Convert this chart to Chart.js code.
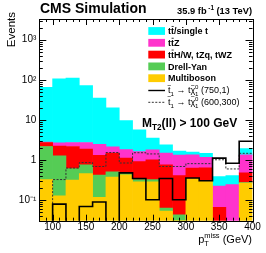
<!DOCTYPE html>
<html><head><meta charset="utf-8">
<script src="https://cdn.jsdelivr.net/npm/chart.js@4/dist/chart.umd.min.js"></script>
<style>html,body{margin:0;padding:0;background:#fff;}canvas{display:block;}</style>
</head><body>
<canvas id="c" width="266" height="253"></canvas>
<script>
// ---- data (GeV bins, events per bin) ----
const binEdges = [80,100,120,140,160,180,200,220,240,260,280,300,320,340,360,380,400];
const binCenters = [90,110,130,150,170,190,210,230,250,270,290,310,330,350,370,390];
const multiboson = [0.32,0.125,0.31,0.45,0.115,0.37,0.42,0.28,0.28,0.052,0.025,0.34,0.30,null,null,0.26];
const drellYan   = [1.83,1.13,0.29,0.30,0.30,0.13,0.05,0.04,0.04,0.01,0.017,null,null,null,null,0.01];
const ttHWtZq    = [0.55,0.94,1.55,1.10,0.88,0.97,0.63,0.58,0.68,0.69,0.36,0.28,0.33,0.065,null,0.20];
const ttZ        = [0.05,0.45,0.55,0.85,1.15,0.63,0.70,0.70,0.78,0.72,0.90,0.71,0.52,0.155,0.24,0.86];
const ttSingleT  = [62,103,107,69,32.5,17.9,7.7,4.0,1.7,0.9,0.35,0.22,0.30,0.16,0.16,0.57];
const sig750_1   = [0,0.078,0,0.068,0.088,0,0.47,0.34,0.10,0.34,0.10,0.35,0.30,1.1,0.82,2.9];
const sig600_300 = [0,0.32,0.62,0.85,0.68,1.52,0.83,1.5,1.4,0.68,0.68,0.8,0.8,1.0,0.59,1.45];
const xTicks = [100,150,200,250,300,350,400];
const yTicks = [0.1,1,10,100,1000];
const yTickLabels = ['10\u207B\u00B9','1','10','10\u00B2','10\u00B3'];

const FONT = "'Liberation Sans', Arial, Helvetica, sans-serif";
const COLORS = {tt:'#00FFFF', ttz:'#FF33CC', ttx:'#FF0000', dy:'#55CC55', vv:'#FFCC00'};

function barData(arr){ return binCenters.map((x,i)=>({x:x, y:arr[i]})); }
function stepData(arr){
  // zero bins are pushed far below the axis minimum so they drop out of view
  return binEdges.map((x,i)=>{ const v = arr[Math.min(i,arr.length-1)]; return {x:x, y: v>0 ? v : 1e-4}; });
}
function barSet(label, arr, color){
  return {type:'bar', label, data:barData(arr), backgroundColor:color, borderWidth:0,
          barPercentage:1, categoryPercentage:1, stack:'bkg'};
}

function drawRich(ctx, x, y, parts, size, weight, draw){
  let cx = x;
  for (const p of parts){
    if (p.ss){
      const fs = size*0.68;
      ctx.font = `${weight} ${fs}px ${FONT}`;
      const w = Math.max(ctx.measureText(p.sup).width, ctx.measureText(p.sub).width);
      if (draw){ ctx.fillText(p.sup, cx, y - size*0.42); ctx.fillText(p.sub, cx, y + size*0.28); }
      cx += w; continue;
    }
    const small = p.sup || p.sub;
    const fs = small ? size*0.68 : size;
    ctx.font = `${weight} ${fs}px ${FONT}`;
    const dy = p.sup ? -size*0.42 : (p.sub ? size*0.28 : 0);
    const w = ctx.measureText(p.t).width;
    if (draw){
      ctx.fillText(p.t, cx, y+dy);
      if (p.bar){
        ctx.save(); ctx.lineWidth = 0.8; ctx.strokeStyle = ctx.fillStyle;
        ctx.beginPath(); ctx.moveTo(cx+0.6, y - size*0.86); ctx.lineTo(cx+w-0.3, y - size*0.86); ctx.stroke(); ctx.restore();
      }
      if (p.tilde){
        ctx.save(); ctx.font = `${weight} ${size*0.75}px ${FONT}`; ctx.textAlign='center';
        ctx.fillText('~', cx + w/2, y - size*0.62); ctx.restore();
      }
    }
    cx += w;
  }
  return cx - x;
}

const framePlugin = {
  id:'frame',
  afterDatasetsDraw(chart){
    const {ctx, chartArea:a, scales:{x, y}} = chart;
    ctx.save();
    ctx.strokeStyle = '#000'; ctx.lineWidth = 1;
    ctx.beginPath();
    for (let e=-2; e<=3; e++){
      for (let m=1; m<=9; m++){
        const v = m*Math.pow(10,e);
        if (v <= y.min*1.0001 || v >= y.max) continue;
        const py = Math.round(y.getPixelForValue(v)) + 0.5;
        const len = m===1 ? 7 : 3.5;
        ctx.moveTo(a.left, py); ctx.lineTo(a.left+len, py);
        ctx.moveTo(a.right, py); ctx.lineTo(a.right-len, py);
      }
    }
    for (let v=90; v<400; v+=10){
      const px = Math.round(x.getPixelForValue(v)) + 0.5;
      const len = v%50===0 ? 6 : 3;
      ctx.moveTo(px, a.bottom); ctx.lineTo(px, a.bottom-len);
      ctx.moveTo(px, a.top); ctx.lineTo(px, a.top+len);
    }
    ctx.stroke();
    const L = Math.round(a.left)+0.5, T = Math.round(a.top)+0.5;
    ctx.strokeRect(L, T, Math.round(a.right)-Math.round(a.left), Math.round(a.bottom)-Math.round(a.top));
    ctx.restore();
  }
};

const legendEntries = [
  {kind:'box', color:COLORS.tt,  parts:[{t:'t'},{t:'t',bar:true},{t:'/single t'}], w:'bold'},
  {kind:'box', color:COLORS.ttz, parts:[{t:'t'},{t:'t',bar:true},{t:'Z'}], w:'bold'},
  {kind:'box', color:COLORS.ttx, parts:[{t:'t'},{t:'t',bar:true},{t:'H/W, tZq, tWZ'}], w:'bold'},
  {kind:'box', color:COLORS.dy,  parts:[{t:'Drell-Yan'}], w:'bold'},
  {kind:'box', color:COLORS.vv,  parts:[{t:'Multiboson'}], w:'bold'},
  {kind:'solid', parts:[{t:'t',tilde:true},{t:'1',sub:true},{t:' \u2192 t'},{t:'\u03C7',tilde:true},{ss:true,sup:'0',sub:'1'},{t:' (750,1)'}], w:'normal'},
  {kind:'dash',  parts:[{t:'t',tilde:true},{t:'1',sub:true},{t:' \u2192 t'},{t:'\u03C7',tilde:true},{ss:true,sup:'0',sub:'1'},{t:' (600,300)'}], w:'normal'}
];

const textPlugin = {
  id:'texts',
  afterDraw(chart){
    const ctx = chart.ctx;
    ctx.save();
    ctx.fillStyle = '#000'; ctx.textBaseline = 'alphabetic'; ctx.textAlign = 'left';
    // header
    ctx.font = `bold 14px ${FONT}`;
    ctx.fillText('CMS Simulation', 40, 13);
    const lumi = [{t:'35.9 fb'},{t:' -1',sup:true},{t:' (13 TeV)'}];
    const lw = drawRich(ctx, 0, 0, lumi, 9.3, 'bold', false);
    drawRich(ctx, 252 - lw, 13.5, lumi, 9.3, 'bold', true);
    // y title
    ctx.save();
    ctx.translate(15, 12); ctx.rotate(-Math.PI/2);
    ctx.textAlign = 'right'; ctx.font = `11.5px ${FONT}`;
    ctx.fillText('Events', 0, 0);
    ctx.restore();
    // x title
    const xt = [{t:'p'},{ss:true,sup:'miss',sub:'T'},{t:' (GeV)'}];
    const xw = drawRich(ctx, 0, 0, xt, 11, 'normal', false);
    drawRich(ctx, 252 - xw, 243, xt, 11, 'normal', true);
    // legend
    const y0 = 31, dy = 11.8;
    legendEntries.forEach((e, i)=>{
      const cy = y0 + i*dy;
      if (e.kind === 'box'){
        ctx.fillStyle = e.color; ctx.fillRect(148.3, cy-3.9, 16.7, 7.8);
      } else {
        ctx.save(); ctx.strokeStyle = e.kind==='solid' ? '#000' : '#333';
        ctx.lineWidth = e.kind==='solid' ? 1.4 : 1;
        if (e.kind==='dash') ctx.setLineDash([2,1.5]);
        ctx.beginPath(); ctx.moveTo(148.3, cy+0.5); ctx.lineTo(165, cy+0.5); ctx.stroke(); ctx.restore();
      }
      ctx.fillStyle = '#000';
      drawRich(ctx, 168, cy+3.2, e.parts, 9, e.w, true);
    });
    // selection label
    drawRich(ctx, 142, 127, [{t:'M'},{t:'T2',sub:true},{t:'(ll) > 100 GeV'}], 12, 'bold', true);
    ctx.restore();
  }
};

new Chart(document.getElementById('c'), {
  type:'bar',
  data:{ datasets:[
    {type:'line', label:'sig750_1', data:stepData(sig750_1), stack:'s1', borderColor:'#000', borderWidth:1.6,
     pointRadius:0, stepped:true, fill:false, tension:0},
    {type:'line', label:'sig600_300', data:stepData(sig600_300), stack:'s2', borderColor:'#333', borderWidth:1,
     borderDash:[2,1.5], pointRadius:0, stepped:true, fill:false, tension:0},
    barSet('Multiboson', multiboson, COLORS.vv),
    barSet('Drell-Yan', drellYan, COLORS.dy),
    barSet('ttH/W, tZq, tWZ', ttHWtZq, COLORS.ttx),
    barSet('ttZ', ttZ, COLORS.ttz),
    barSet('tt/single t', ttSingleT, COLORS.tt)
  ]},
  options:{
    responsive:false, animation:false, devicePixelRatio:1,
    layout:{padding:{top:19, right:13.5, left:0, bottom:0}},
    plugins:{legend:{display:false}, tooltip:{enabled:false}},
    scales:{
      x:{type:'linear', min:80, max:400, offset:false,
         grid:{display:false, drawTicks:false}, border:{display:false},
         ticks:{font:{family:FONT, size:10}, color:'#000', padding:1, maxRotation:0, autoSkip:false},
         afterBuildTicks:(s)=>{ s.ticks = xTicks.map(v=>({value:v})); },
         afterFit:(s)=>{ s.height = 32.3; }},
      y:{type:'logarithmic', stacked:true, min:0.03, max:3300,
         grid:{display:false, drawTicks:false}, border:{display:false},
         ticks:{font:{family:FONT, size:10}, color:'#000', padding:3, autoSkip:false,
                callback:(v)=>{ const i = yTicks.findIndex(t=>Math.abs(t-v)/t<1e-6); return i>=0 ? yTickLabels[i] : ''; }},
         afterBuildTicks:(s)=>{ s.ticks = yTicks.map(v=>({value:v})); },
         afterFit:(s)=>{ s.width = 39.3; }}
    }
  },
  plugins:[framePlugin, textPlugin]
});
</script>
</body></html>
